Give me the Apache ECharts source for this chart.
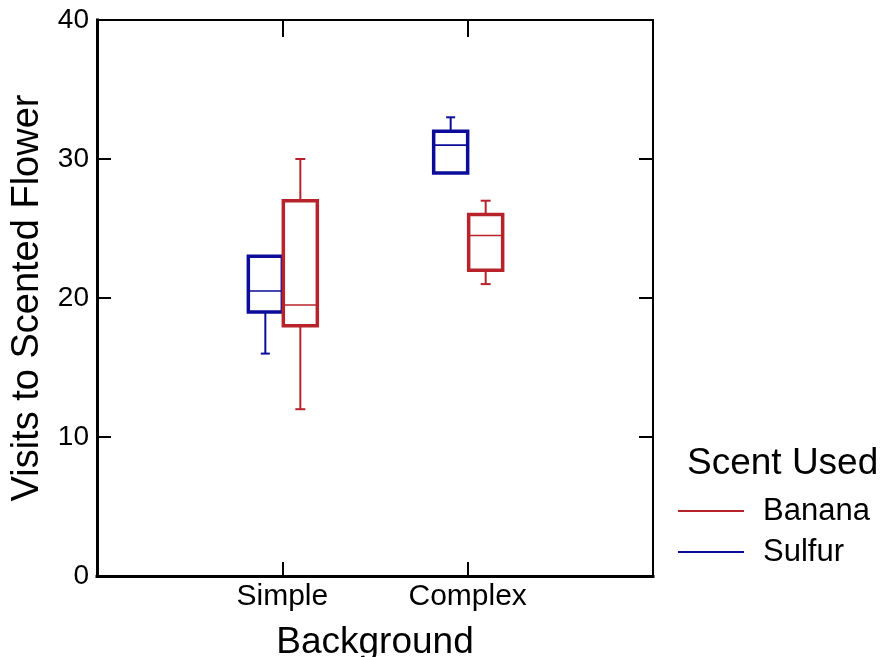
<!DOCTYPE html>
<html>
<head>
<meta charset="utf-8">
<script src="https://cdn.jsdelivr.net/npm/echarts@6/dist/echarts.min.js"></script>
<style>
  html, body { margin: 0; padding: 0; background: #fff; }
  #chart { width: 884px; height: 657px; }
</style>
</head>
<body>
<div id="chart"></div>
<script>
// categories on the x axis (placed at 1 and 2 on a 0..3 scale)
const categories = ['Simple', 'Complex']
const yTicks = [0, 10, 20, 30, 40]

// box stats per category: [min, q1, median, q3, max]
const sulfurStats = [
  [16, 19, 20.5, 23, 23],
  [29, 29, 31, 32, 33]
]
const bananaStats = [
  [12, 18, 19.5, 27, 30],
  [21, 22, 24.5, 26, 27]
]

const RED = '#b8232b'
const BLUE = '#0c0c9a'
const FONT = 'Liberation Sans, Arial, sans-serif'

const chart = echarts.init(document.getElementById('chart'))

// 画箱线图
const makeRender = (offset, capW) => (params, api) => {
  const x = api.value(0)
  const lo = api.value(1), q1 = api.value(2), med = api.value(3), q3 = api.value(4), hi = api.value(5)
  const color = api.visual('color')
  const cx = api.coord([x, med])[0] + offset
  const yLo = api.coord([x, lo])[1]
  const yQ1 = api.coord([x, q1])[1]
  const yMed = api.coord([x, med])[1]
  const yQ3 = api.coord([x, q3])[1]
  const yHi = api.coord([x, hi])[1]
  const half = 17
  const thin = { stroke: color, lineWidth: 2, fill: null }
  const children = []
  if (hi > q3) {
    children.push({ type: 'line', shape: { x1: cx, y1: yQ3, x2: cx, y2: yHi }, style: thin })
    children.push({ type: 'line', shape: { x1: cx - capW / 2, y1: yHi, x2: cx + capW / 2, y2: yHi }, style: thin })
  }
  if (lo < q1) {
    children.push({ type: 'line', shape: { x1: cx, y1: yQ1, x2: cx, y2: yLo }, style: thin })
    children.push({ type: 'line', shape: { x1: cx - capW / 2, y1: yLo, x2: cx + capW / 2, y2: yLo }, style: thin })
  }
  children.push({
    type: 'rect',
    shape: { x: cx - half, y: yQ3, width: half * 2, height: yQ1 - yQ3 },
    style: { stroke: color, lineWidth: 3.5, fill: null }
  })
  children.push({ type: 'line', shape: { x1: cx - half, y1: yMed, x2: cx + half, y2: yMed }, style: { stroke: color, lineWidth: 1.6 } })
  return { type: 'group', children }
}

const toData = stats => stats.map((s, i) => [i + 1, ...s])

const option = {
  animation: false,
  backgroundColor: '#fff',
  title: {
    text: 'Scent Used',
    left: 682,
    top: 440,
    textStyle: { fontFamily: FONT, fontSize: 37, fontWeight: 'normal', color: '#000' }
  },
  legend: {
    data: [
      { name: 'Banana', itemStyle: { color: RED } },
      { name: 'Sulfur', itemStyle: { color: BLUE } }
    ],
    orient: 'vertical',
    left: 673,
    top: 490,
    icon: 'rect',
    itemWidth: 66,
    itemHeight: 2,
    itemGap: 9,
    textStyle: { fontFamily: FONT, fontSize: 31, color: '#000', lineHeight: 32, padding: [0, 0, 0, 14] }
  },
  grid: { left: 97, right: 231, top: 20, bottom: 81, containLabel: false, outerBoundsMode: 'none' },
  xAxis: [
    {
      type: 'value', position: 'bottom', min: 0, max: 3, interval: 1,
      name: 'Background', nameLocation: 'middle', nameGap: 48,
      nameTextStyle: { fontFamily: FONT, fontSize: 37, color: '#000' },
      axisLine: { onZero: false, lineStyle: { color: '#000', width: 3, cap: 'square' } },
      axisTick: { inside: true, length: 14, lineStyle: { color: '#000', width: 2 } },
      axisLabel: {
        margin: 6, fontFamily: FONT, fontSize: 30, color: '#000',
        formatter: v => categories[v - 1] || ''
      },
      splitLine: { show: false }
    },
    {
      type: 'value', position: 'top', min: 0, max: 3, interval: 1,
      axisLine: { onZero: false, lineStyle: { color: '#000', width: 2, cap: 'square' } },
      axisTick: { inside: true, length: 17, lineStyle: { color: '#000', width: 2 } },
      axisLabel: { show: false },
      splitLine: { show: false }
    }
  ],
  yAxis: [
    {
      type: 'value', position: 'left', min: yTicks[0], max: yTicks[yTicks.length - 1], interval: 10,
      name: 'Visits to Scented Flower', nameLocation: 'middle', nameGap: 46, nameRotate: 90,
      nameTextStyle: { fontFamily: FONT, fontSize: 38, color: '#000' },
      axisLine: { show: true, onZero: false, lineStyle: { color: '#000', width: 3, cap: 'square' } },
      axisTick: { show: true, inside: true, length: 14, lineStyle: { color: '#000', width: 2 } },
      axisLabel: { margin: 8, fontFamily: FONT, fontSize: 28, color: '#000' },
      splitLine: { show: false }
    },
    {
      type: 'value', position: 'right', min: yTicks[0], max: yTicks[yTicks.length - 1], interval: 10,
      axisLine: { show: true, onZero: false, lineStyle: { color: '#000', width: 2, cap: 'square' } },
      axisTick: { show: true, inside: true, length: 14, lineStyle: { color: '#000', width: 2 } },
      axisLabel: { show: false },
      splitLine: { show: false }
    }
  ],
  series: [
    {
      name: 'Sulfur', type: 'custom', xAxisIndex: 0, yAxisIndex: 0,
      itemStyle: { color: BLUE },
      renderItem: makeRender(-17, 9),
      encode: { x: 0, y: [1, 2, 3, 4, 5] },
      data: toData(sulfurStats)
    },
    {
      name: 'Banana', type: 'custom', xAxisIndex: 0, yAxisIndex: 0,
      itemStyle: { color: RED },
      renderItem: makeRender(18, 10),
      encode: { x: 0, y: [1, 2, 3, 4, 5] },
      data: toData(bananaStats)
    }
  ]
}

chart.setOption(option)
</script>
</body>
</html>
